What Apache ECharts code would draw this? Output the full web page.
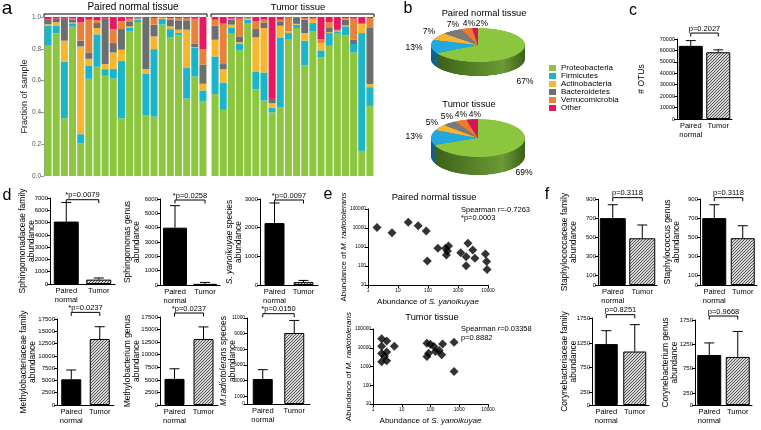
<!DOCTYPE html>
<html>
<head>
<meta charset="utf-8">
<title>Skin microbiome panels</title>
<script src="https://cdn.jsdelivr.net/npm/echarts@6/dist/echarts.min.js"></script>
<style>
  html, body { margin: 0; padding: 0; background: #fff; }
  #chart { position: absolute; left: 0; top: 0; width: 761px; height: 430px; }
  .pie { position: absolute; transform-origin: 0 0; }
</style>
</head>
<body>
<div id="chart"></div>
<div id="pieNormal" class="pie"></div>
<div id="pieTumor" class="pie"></div>
<script>
/* global echarts */
const FONT = "'Liberation Sans', Arial, Helvetica, sans-serif";

// ---- panel a: fraction of sample per phylum, 20 paired normal samples then 20 tumor samples
const phyla = ["Proteobacteria", "Firmicutes", "Actinobacteria", "Bacteroidetes", "Verrucomicrobia", "Other"];
const proteobacteria = [0.82, 0.897, 0.363, 0.94, 0.206, 0.611, 0.687, 0.63, 0.613, 0.363, 0.908, 0.968, 0.38, 0.374, 0.952, 0.872, 0.884, 0.487, 0.626, 0.468,
  0.515, 0.416, 0.899, 0.79, 0.962, 0.546, 0.475, 0.4, 0.43, 0.857, 0.931, 0.695, 0.91, 0.748, 0.819, 0.899, 0.884, 0.777, 0.158, 0.441];
const firmicutes = [0.125, 0.05, 0.355, 0.02, 0.057, 0.084, 0.204, 0.042, 0.061, 0.362, 0.023, 0.015, 0.265, 0.424, 0.035, 0.052, 0.015, 0.192, 0.179, 0.07,
  0.237, 0.172, 0.032, 0.04, 0.021, 0.112, 0.176, 0.03, 0.438, 0.042, 0.021, 0.156, 0.052, 0.042, 0.08, 0.011, 0.057, 0.053, 0.741, 0.118];
const actinobacteria = [0.01, 0.02, 0.133, 0.005, 0.552, 0.042, 0.04, 0.032, 0.103, 0.069, 0.01, 0.005, 0.027, 0.08, 0.005, 0.017, 0.021, 0.241, 0.005, 0.042,
  0.105, 0.084, 0.021, 0.012, 0.005, 0.214, 0.28, 0.028, 0.077, 0.011, 0.005, 0.048, 0.021, 0.046, 0.005, 0.005, 0.006, 0, 0.059, 0.019];
const bacteroidetes = [0.03, 0.023, 0.139, 0.02, 0.036, 0.04, 0.031, 0.286, 0.059, 0.13, 0.032, 0.005, 0.322, 0.074, 0, 0.042, 0.059, 0.059, 0.021, 0.12,
  0.088, 0.032, 0.031, 0.036, 0.003, 0.052, 0.035, 0.027, 0.028, 0, 0.038, 0.084, 0, 0, 0.027, 0.009, 0.036, 0.027, 0, 0.357];
const verrucomicrobia = [0, 0, 0, 0.005, 0.115, 0.206, 0.017, 0, 0.088, 0.049, 0.017, 0.003, 0, 0.042, 0.004, 0.01, 0.014, 0.014, 0.158, 0.098,
  0.038, 0.254, 0.007, 0.112, 0.004, 0.049, 0.018, 0, 0.01, 0.085, 0, 0.01, 0.01, 0.025, 0.037, 0, 0.01, 0.133, 0, 0.059];
const otherPhyla = [0.015, 0.01, 0.01, 0.01, 0.034, 0.017, 0.021, 0.01, 0.076, 0.027, 0.01, 0.004, 0.006, 0.006, 0.004, 0.007, 0.007, 0.007, 0.011, 0.202,
  0.017, 0.042, 0.01, 0.01, 0.005, 0.027, 0.016, 0.515, 0.017, 0.005, 0.005, 0.007, 0.007, 0.139, 0.032, 0.076, 0.007, 0.01, 0.042, 0.006];

// ---- panel b: mean composition (%)
const pieNormal = [67, 13, 7, 7, 4, 2];
const pieTumor = [69, 13, 5, 5, 4, 4];

// ---- bar panels (c, d, f): mean and SEM for paired normal / tumor
const groups = ["Paired\nnormal", "Tumor"];
const otuMean = [64000, 58400];
const otuErr = [4600, 2100];
const sphingomonadaceaeMean = [5080, 355];
const sphingomonadaceaeErr = [1560, 135];
const sphingomonasMean = [4000, 80];
const sphingomonasErr = [1535, 100];
const yanoikuyaeMean = [2160, 100];
const yanoikuyaeErr = [700, 60];
const methylobacteriaceaeMean = [5230, 13430];
const methylobacteriaceaeErr = [1890, 2500];
const methylobacteriumMean = [5200, 13130];
const methylobacteriumErr = [2000, 2400];
const radiotoleransMean = [3200, 9080];
const radiotoleransErr = [1190, 1610];
const staphylococcaceaeMean = [700, 489];
const staphylococcaceaeErr = [140, 139];
const staphylococcusMean = [700, 490];
const staphylococcusErr = [140, 130];
const corynebacteriaceaeMean = [1225, 1076];
const corynebacteriaceaeErr = [270, 540];
const corynebacteriumMean = [1030, 989];
const corynebacteriumErr = [248, 525];

// ---- panel e: S. yanoikuyae vs M. radiotolerans abundance per sample
const normalYanoikuyae = [2, 6.3, 22, 47, 87, 95, 213, 386, 445, 482, 410, 1235, 2140, 1870, 1870, 3100, 3660, 8200, 9000, 9300];
const normalRadiotolerans = [10500, 5600, 20000, 13200, 6900, 183, 850, 850, 613, 1120, 378, 504, 1560, 309, 104, 690, 252, 427, 170, 66];
const tumorYanoikuyae = [2, 3, 2, 5.5, 2, 3, 2, 3, 2.5, 75, 99, 131, 86, 75, 150, 200, 244, 264, 660, 660];
const tumorRadiotolerans = [30000, 23000, 12000, 12000, 5000, 6000, 1800, 2000, 3500, 17400, 15500, 11500, 5100, 3400, 6300, 7100, 4170, 16000, 19500, 540];

// ---- colours
const phylumColors = ["#8cc63f", "#1cb5c8", "#f6b62f", "#6d6e70", "#e8823a", "#e6185e"];
const pieColors = ["#8cc63f", "#22a8dc", "#f7b331", "#7a7a7a", "#ef7a2e", "#d6145a"];
const pieSideColors = [["#3c6119", "#6c9a35"], ["#0f5f86", "#1d88b8"], ["#9a6c12", "#c99524"], ["#3e3e3e", "#5e5e5e"], ["#94471a", "#c2642a"], ["#7c0b33", "#a8124a"]];

function hatch() {
  const c = document.createElement("canvas");
  c.width = 3; c.height = 3;
  const ctx = c.getContext("2d");
  ctx.fillStyle = "#d4d4d4";
  ctx.fillRect(0, 0, 3, 3);
  ctx.strokeStyle = "#4a4a4a";
  ctx.lineWidth = 0.9;
  ctx.beginPath();
  ctx.moveTo(-1, 4); ctx.lineTo(4, -1);
  ctx.moveTo(-1, 1); ctx.lineTo(1, -1);
  ctx.moveTo(2, 4); ctx.lineTo(4, 2);
  ctx.stroke();
  return c;
}
const hatchFill = { image: hatch(), repeat: "repeat" };

const grids = [], xAxes = [], yAxes = [], series = [];
function addGrid(r) {
  grids.push({ left: r[0], top: r[1], width: r[2], height: r[3] });
  return grids.length - 1;
}

// ---------- panel a ----------
const phylumData = [proteobacteria, firmicutes, actinobacteria, bacteroidetes, verrucomicrobia, otherPhyla];
const aRects = [[44, 17, 163, 159], [211, 17, 163, 159]];
aRects.forEach((rect, g) => {
  const gi = addGrid(rect);
  xAxes.push({
    type: "category", gridIndex: gi,
    data: proteobacteria.slice(g * 20, g * 20 + 20).map((_, i) => g * 20 + i + 1),
    axisLine: { show: false }, axisTick: { show: false }, axisLabel: { show: false },
  });
  yAxes.push({
    type: "value", gridIndex: gi, min: 0, max: 1, interval: 0.2, show: g === 0,
    axisLine: { show: true, lineStyle: { color: "#999" } },
    axisTick: { show: true, length: 3, lineStyle: { color: "#999" } },
    splitLine: { show: false },
    axisLabel: { fontSize: 6.5, color: "#555", margin: 3, formatter: (v) => v.toFixed(1) },
    name: "Fraction of sample", nameLocation: "middle", nameGap: 15, nameMoveOverlap: false,
    nameTextStyle: { fontSize: 9, color: "#222", fontFamily: FONT },
  });
  phyla.forEach((name, k) => {
    series.push({
      type: "bar", name, stack: "a" + g, xAxisIndex: gi, yAxisIndex: gi,
      data: phylumData[k].slice(g * 20, g * 20 + 20),
      barCategoryGap: "14%", itemStyle: { color: phylumColors[k] },
    });
  });
});

// ---------- bar panels c, d, f ----------
function errorItem(params, api) {
  const base = api.coord([api.value(0), api.value(1)]);
  const top = api.coord([api.value(0), api.value(2)]);
  const style = { stroke: "#000", lineWidth: 1 };
  return {
    type: "group", children: [
      { type: "line", shape: { x1: base[0], y1: base[1], x2: top[0], y2: top[1] }, style },
      { type: "line", shape: { x1: top[0] - 5, y1: top[1], x2: top[0] + 5, y2: top[1] }, style },
    ],
  };
}
function bracketItem(text) {
  return function (params, api) {
    const a = api.coord([0, api.value(1)]);
    const b = api.coord([1, api.value(1)]);
    return {
      type: "group", children: [
        { type: "polyline", shape: { points: [[a[0], a[1] + 3.5], a, b, [b[0], b[1] + 3.5]] }, style: { stroke: "#000", fill: null, lineWidth: 1 } },
        { type: "text", x: (a[0] + b[0]) / 2, y: a[1] - 0.5, style: { text, fontSize: 7.5, fill: "#000", align: "center", verticalAlign: "bottom", fontFamily: FONT } },
      ],
    };
  };
}

const barPanels = [
  { rect: [677, 39, 55, 80], bw: 24, max: 70000, interval: 10000, mean: otuMean, err: otuErr, p: "p=0.2027", bracket: 75200, name: "# OTUs", gap: 31, labelSize: 5.5 },
  { rect: [50, 198, 65, 86], bw: 25, max: 7000, interval: 1000, mean: sphingomonadaceaeMean, err: sphingomonadaceaeErr, p: "*p=0.0079", bracket: 6860, name: "Sphingomonadaceae family\nabundance", gap: 14 },
  { rect: [160, 199, 60, 86], bw: 24, max: 6000, interval: 1000, mean: sphingomonasMean, err: sphingomonasErr, p: "*p=0.0258", bracket: 5930, name: "Sphingomonas genus\nabundance", gap: 19 },
  { rect: [260, 199, 58, 86], bw: 20, max: 3000, interval: 1000, mean: yanoikuyaeMean, err: yanoikuyaeErr, p: "*p=0.0097", bracket: 2965, name: "{i|S. yanoikuyae} species\nabundance", gap: 17 },
  { rect: [57, 319, 57, 86], bw: 20, max: 17500, interval: 2500, mean: methylobacteriaceaeMean, err: methylobacteriaceaeErr, p: "*p=0.0237", bracket: 18850, name: "Methylobacteriaceae family\nabundance", gap: 20 },
  { rect: [160, 317, 58, 88], bw: 20, max: 17500, interval: 2500, mean: methylobacteriumMean, err: methylobacteriumErr, p: "*p=0.0237", bracket: 18290, name: "Methylobacterium genus\nabundance", gap: 19 },
  { rect: [247, 318, 63, 86], bw: 20, max: 11000, ticks: [0, 1000, 3000, 5000, 7000, 9000, 11000], mean: radiotoleransMean, err: radiotoleransErr, p: "*p=0.0150", bracket: 11550, name: "{i|M.radiotolerans} species\nabundance", gap: 10, labelSize: 4.8 },
  { rect: [598, 199, 59, 86], bw: 26, max: 900, ticks: [0, 100, 300, 500, 700, 900], mean: staphylococcaceaeMean, err: staphylococcaceaeErr, p: "p=0.3118", bracket: 914, name: "Staphylococcaceae family\nabundance", gap: 20 },
  { rect: [700, 199, 57, 86], bw: 24, max: 900, ticks: [0, 100, 300, 500, 700, 900], mean: staphylococcusMean, err: staphylococcusErr, p: "p=0.3118", bracket: 914, name: "Staphylococcus genus\nabundance", gap: 19 },
  { rect: [592, 318, 57, 87], bw: 23, max: 1750, ticks: [0, 250, 750, 1250, 1750], mean: corynebacteriaceaeMean, err: corynebacteriaceaeErr, p: "p=0.8251", bracket: 1817, name: "Corynebacteriaceae family\nabundance", gap: 14 },
  { rect: [695, 320, 57, 85], bw: 24, max: 1750, ticks: [0, 250, 750, 1250, 1750], mean: corynebacteriumMean, err: corynebacteriumErr, p: "p=0.9668", bracket: 1832, name: "Corynebacterium genus\nabundance", gap: 16 },
];

barPanels.forEach((cfg) => {
  const gi = addGrid(cfg.rect);
  xAxes.push({
    type: "category", gridIndex: gi, data: groups,
    axisLine: { lineStyle: { color: "#000", width: 1 } }, axisTick: { show: false },
    axisLabel: { fontSize: 7.5, color: "#000", lineHeight: 8.5, margin: 3, fontFamily: FONT, interval: 0, verticalAlign: "top" },
  });
  yAxes.push({
    type: "value", gridIndex: gi, min: 0, max: cfg.max, interval: cfg.interval,
    axisLine: { show: true, lineStyle: { color: "#000" } },
    axisTick: { show: true, length: 3, lineStyle: { color: "#000" }, customValues: cfg.ticks },
    axisLabel: { fontSize: cfg.labelSize || 6, color: "#000", margin: 2, customValues: cfg.ticks, formatter: (v) => String(v), fontFamily: FONT },
    splitLine: { show: false },
    name: cfg.name, nameLocation: "middle", nameGap: cfg.gap, nameMoveOverlap: false,
    nameTextStyle: { fontSize: 8.5, color: "#000", lineHeight: 9, fontFamily: FONT, rich: { i: { fontStyle: "italic", fontSize: 8.5, lineHeight: 9, fontFamily: FONT } } },
  });
  series.push({
    type: "bar", xAxisIndex: gi, yAxisIndex: gi, barWidth: cfg.bw,
    data: cfg.mean.map((v, i) => ({ value: v, itemStyle: { color: i === 0 ? "#000" : hatchFill } })),
    itemStyle: { borderColor: "#000", borderWidth: 1 },
  });
  series.push({
    type: "custom", xAxisIndex: gi, yAxisIndex: gi, renderItem: errorItem, z: 5,
    data: cfg.mean.map((v, i) => [i, v, v + cfg.err[i]]),
  });
  series.push({
    type: "custom", xAxisIndex: gi, yAxisIndex: gi, renderItem: bracketItem(cfg.p), z: 5,
    data: [[0, cfg.bracket]],
  });
});

// ---------- panel e ----------
const scatterPanels = [
  { rect: [368, 209, 120, 76], xs: normalYanoikuyae, ys: normalRadiotolerans },
  { rect: [373, 329, 115, 75], xs: tumorYanoikuyae, ys: tumorRadiotolerans },
];
const nameStyle = { fontSize: 8, color: "#000", fontFamily: FONT, rich: { i: { fontStyle: "italic", fontSize: 8, fontFamily: FONT } } };
scatterPanels.forEach((cfg) => {
  const gi = addGrid(cfg.rect);
  xAxes.push({
    type: "log", logBase: 10, gridIndex: gi, min: 1, max: 10000,
    axisLine: { onZero: false, lineStyle: { color: "#000" } },
    axisTick: { length: 3, lineStyle: { color: "#000" } },
    axisLabel: { fontSize: 4.8, color: "#000", margin: 3, formatter: (v) => String(Math.round(v)), fontFamily: FONT },
    splitLine: { show: false },
    name: "Abundance of {i|S. yanoikuyae}", nameLocation: "middle", nameGap: 13, nameMoveOverlap: false, nameTextStyle: nameStyle,
  });
  yAxes.push({
    type: "log", logBase: 10, gridIndex: gi, min: 10, max: 100000,
    axisLine: { onZero: false, lineStyle: { color: "#000" } },
    axisTick: { length: 3, lineStyle: { color: "#000" } },
    axisLabel: { fontSize: 4.8, color: "#000", margin: 2, formatter: (v) => String(Math.round(v)), fontFamily: FONT },
    splitLine: { show: false },
    name: "Abundance of {i|M. radiotolerans}", nameLocation: "middle", nameGap: 20, nameMoveOverlap: false, nameTextStyle: nameStyle,
  });
  series.push({
    type: "scatter", xAxisIndex: gi, yAxisIndex: gi, symbol: "diamond", symbolSize: 9,
    itemStyle: { color: "#000" },
    data: cfg.xs.map((x, i) => [x, cfg.ys[i]]),
  });
});

// ---------- free text ----------
function txt(x, y, text, size, extra) {
  return { type: "text", x, y, style: Object.assign({ text, fontSize: size, fill: "#000", fontFamily: FONT, align: "center", verticalAlign: "middle" }, extra || {}) };
}
function bracket(x1, x2, y) {
  return { type: "polyline", shape: { points: [[x1, y + 3], [x1, y], [x2, y], [x2, y + 3]] }, style: { stroke: "#000", fill: null, lineWidth: 1 } };
}
const letters = [["a", 7, 9, 19], ["b", 408, 9, 16], ["c", 633, 11, 16], ["d", 7, 196, 16], ["e", 328, 195, 16], ["f", 547, 195, 16]];
const pieLabelPos = {
  normal: [[525, 82], [414, 48], [429, 32], [453, 25], [469, 24], [482, 24]],
  tumor: [[524, 173], [414, 137], [432, 123], [447, 117], [461, 115], [475, 115]],
};
const graphic = [];
letters.forEach(([t, x, y, s]) => graphic.push(txt(x, y, t, s)));
graphic.push(bracket(aRects[0][0], aRects[0][0] + aRects[0][2], 14), txt(133, 7, "Paired normal tissue", 10));
graphic.push(bracket(aRects[1][0], aRects[1][0] + aRects[1][2], 14), txt(298, 7, "Tumor tissue", 9.5));
graphic.push(txt(484, 13, "Paired normal tissue", 9.3), txt(469, 104, "Tumor tissue", 9.3));
pieNormal.forEach((v, i) => graphic.push(txt(pieLabelPos.normal[i][0], pieLabelPos.normal[i][1], v + "%", 8.5)));
pieTumor.forEach((v, i) => graphic.push(txt(pieLabelPos.tumor[i][0], pieLabelPos.tumor[i][1], v + "%", 8.5)));
graphic.push(txt(434, 197, "Paired normal tissue", 9.3), txt(432, 317, "Tumor tissue", 9.3));
graphic.push(txt(461, 210, "Spearman r=-0.7263", 7.5, { align: "left" }), txt(461, 218, "*p=0.0003", 7.5, { align: "left" }));
graphic.push(txt(461, 329, "Spearman r=0.03358", 7.5, { align: "left" }), txt(461, 338, "p=0.8882", 7.5, { align: "left" }));

const chart = echarts.init(document.getElementById("chart"));
chart.setOption({
  animation: false,
  textStyle: { fontFamily: FONT },
  legend: {
    orient: "vertical", left: 544, top: 59, itemWidth: 7, itemHeight: 6, itemGap: 0, icon: "rect",
    selectedMode: false, data: phyla,
    textStyle: { fontSize: 8, lineHeight: 6, color: "#000", fontFamily: FONT },
  },
  grid: grids, xAxis: xAxes, yAxis: yAxes, series, graphic,
});

// ---------- panel b pies: flattened discs with a darker rim ----------
function drawPie(id, values, g) {
  const s = g.ry / g.rx;
  const drop = g.depth / s;
  const el = document.getElementById(id);
  Object.assign(el.style, {
    left: (g.cx - g.rx) + "px", top: (g.cy - g.ry) + "px",
    width: (2 * g.rx) + "px", height: (2 * g.rx + drop + 2) + "px",
    transform: "scaleY(" + s + ")",
  });
  const pie = echarts.init(el);
  const data = phyla.map((name, i) => ({ name, value: values[i] }));
  const sideFill = pieSideColors.map(([dark, light]) => new echarts.graphic.LinearGradient(0, 0, 1, 0, [
    { offset: 0, color: dark }, { offset: 0.75, color: light }, { offset: 1, color: dark },
  ]));
  const layers = [];
  const n = 12;
  for (let k = n; k >= 1; k--) {
    layers.push({
      type: "pie", radius: g.rx, center: [g.rx, g.rx + drop * k / n], data, startAngle: 90,
      label: { show: false }, labelLine: { show: false }, silent: true,
      itemStyle: { borderWidth: 0, color: (p) => sideFill[p.dataIndex] },
    });
  }
  layers.push({
    type: "pie", radius: g.rx, center: [g.rx, g.rx], data, startAngle: 90,
    label: { show: false }, labelLine: { show: false }, silent: true,
    itemStyle: { borderWidth: 0, color: (p) => pieColors[p.dataIndex] },
  });
  pie.setOption({ animation: false, series: layers });
}
drawPie("pieNormal", pieNormal, { cx: 478, cy: 45, rx: 47, ry: 17, depth: 14 });
drawPie("pieTumor", pieTumor, { cx: 478, cy: 138, rx: 47, ry: 19, depth: 18 });
</script>
</body>
</html>
